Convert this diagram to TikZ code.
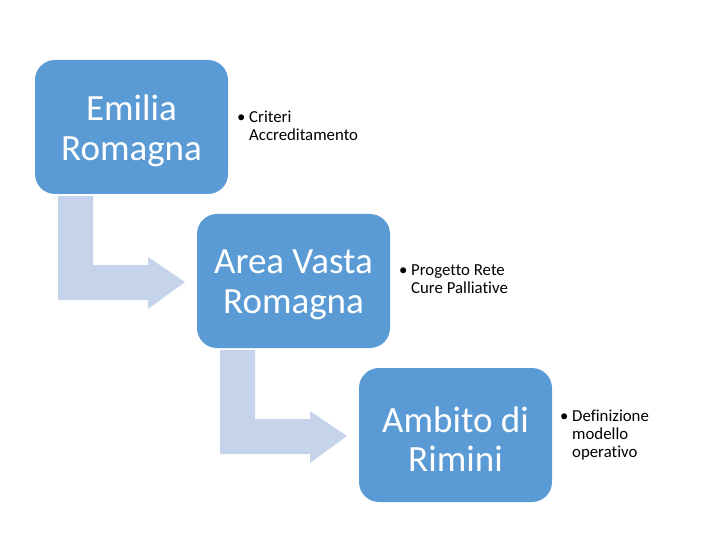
\documentclass[tikz,border=0pt]{standalone}
\usepackage{fontspec}
\setmainfont{Carlito}[Ligatures={NoCommon}]
\definecolor{boxblue}{HTML}{5B9BD5}
\definecolor{arrowblue}{HTML}{C5D4EA}
\tikzset{
  levelbox/.style={fill=boxblue, draw=none, rounded corners=20pt, minimum width=193pt, minimum height=134pt, inner sep=0pt},
  boxtext/.style={text=white, align=center, font=\fontsize{37}{39.5}\selectfont, inner sep=0pt},
  bullettext/.style={anchor=base west, inner sep=0pt, font=\fontsize{16.8}{18}\selectfont},
  bentarrow/.pic={
    \fill[arrowblue] (0,0) -- (35,0) -- (35,69) -- (90,69) -- (90,61) -- (127,86) -- (90,113) -- (90,104) -- (0,104) -- cycle;
  }
}
\begin{document}
\begin{tikzpicture}[x=1pt,y=-1pt]
\useasboundingbox (0,0) rectangle (720,540);
% arrows
\pic (a1) at (58,196) {bentarrow};
\pic (a2) at (220,350) {bentarrow};
% boxes
\node[levelbox] (b1) at (131.5,127) {};
\node[levelbox] (b2) at (293.5,281) {};
\node[levelbox] (b3) at (455.5,435) {};
\node[boxtext] (t1) at ([yshift=-4pt]b1.center) {Emilia\\Romagna};
\node[boxtext] (t2) at ([yshift=-4pt]b2.center) {Area Vasta\\Romagna};
\node[boxtext] (t3) at ([yshift=-4pt]b3.center) {Ambito di\\Rimini};
% bullet texts
\node[bullettext] (l1a) at (237,123) {\makebox[12pt][l]{•}Criteri};
\node[bullettext] (l1b) at (249,141) {Accreditamento};
\node[bullettext] (l2a) at (399,275) {\makebox[12pt][l]{•}Progetto Rete};
\node[bullettext] (l2b) at (411,293) {Cure Palliative};
\node[bullettext] (l3a) at (560,421) {\makebox[12pt][l]{•}Definizione};
\node[bullettext] (l3b) at (572,439) {modello};
\node[bullettext] (l3c) at (572,457) {operativo};
\end{tikzpicture}
\end{document}
